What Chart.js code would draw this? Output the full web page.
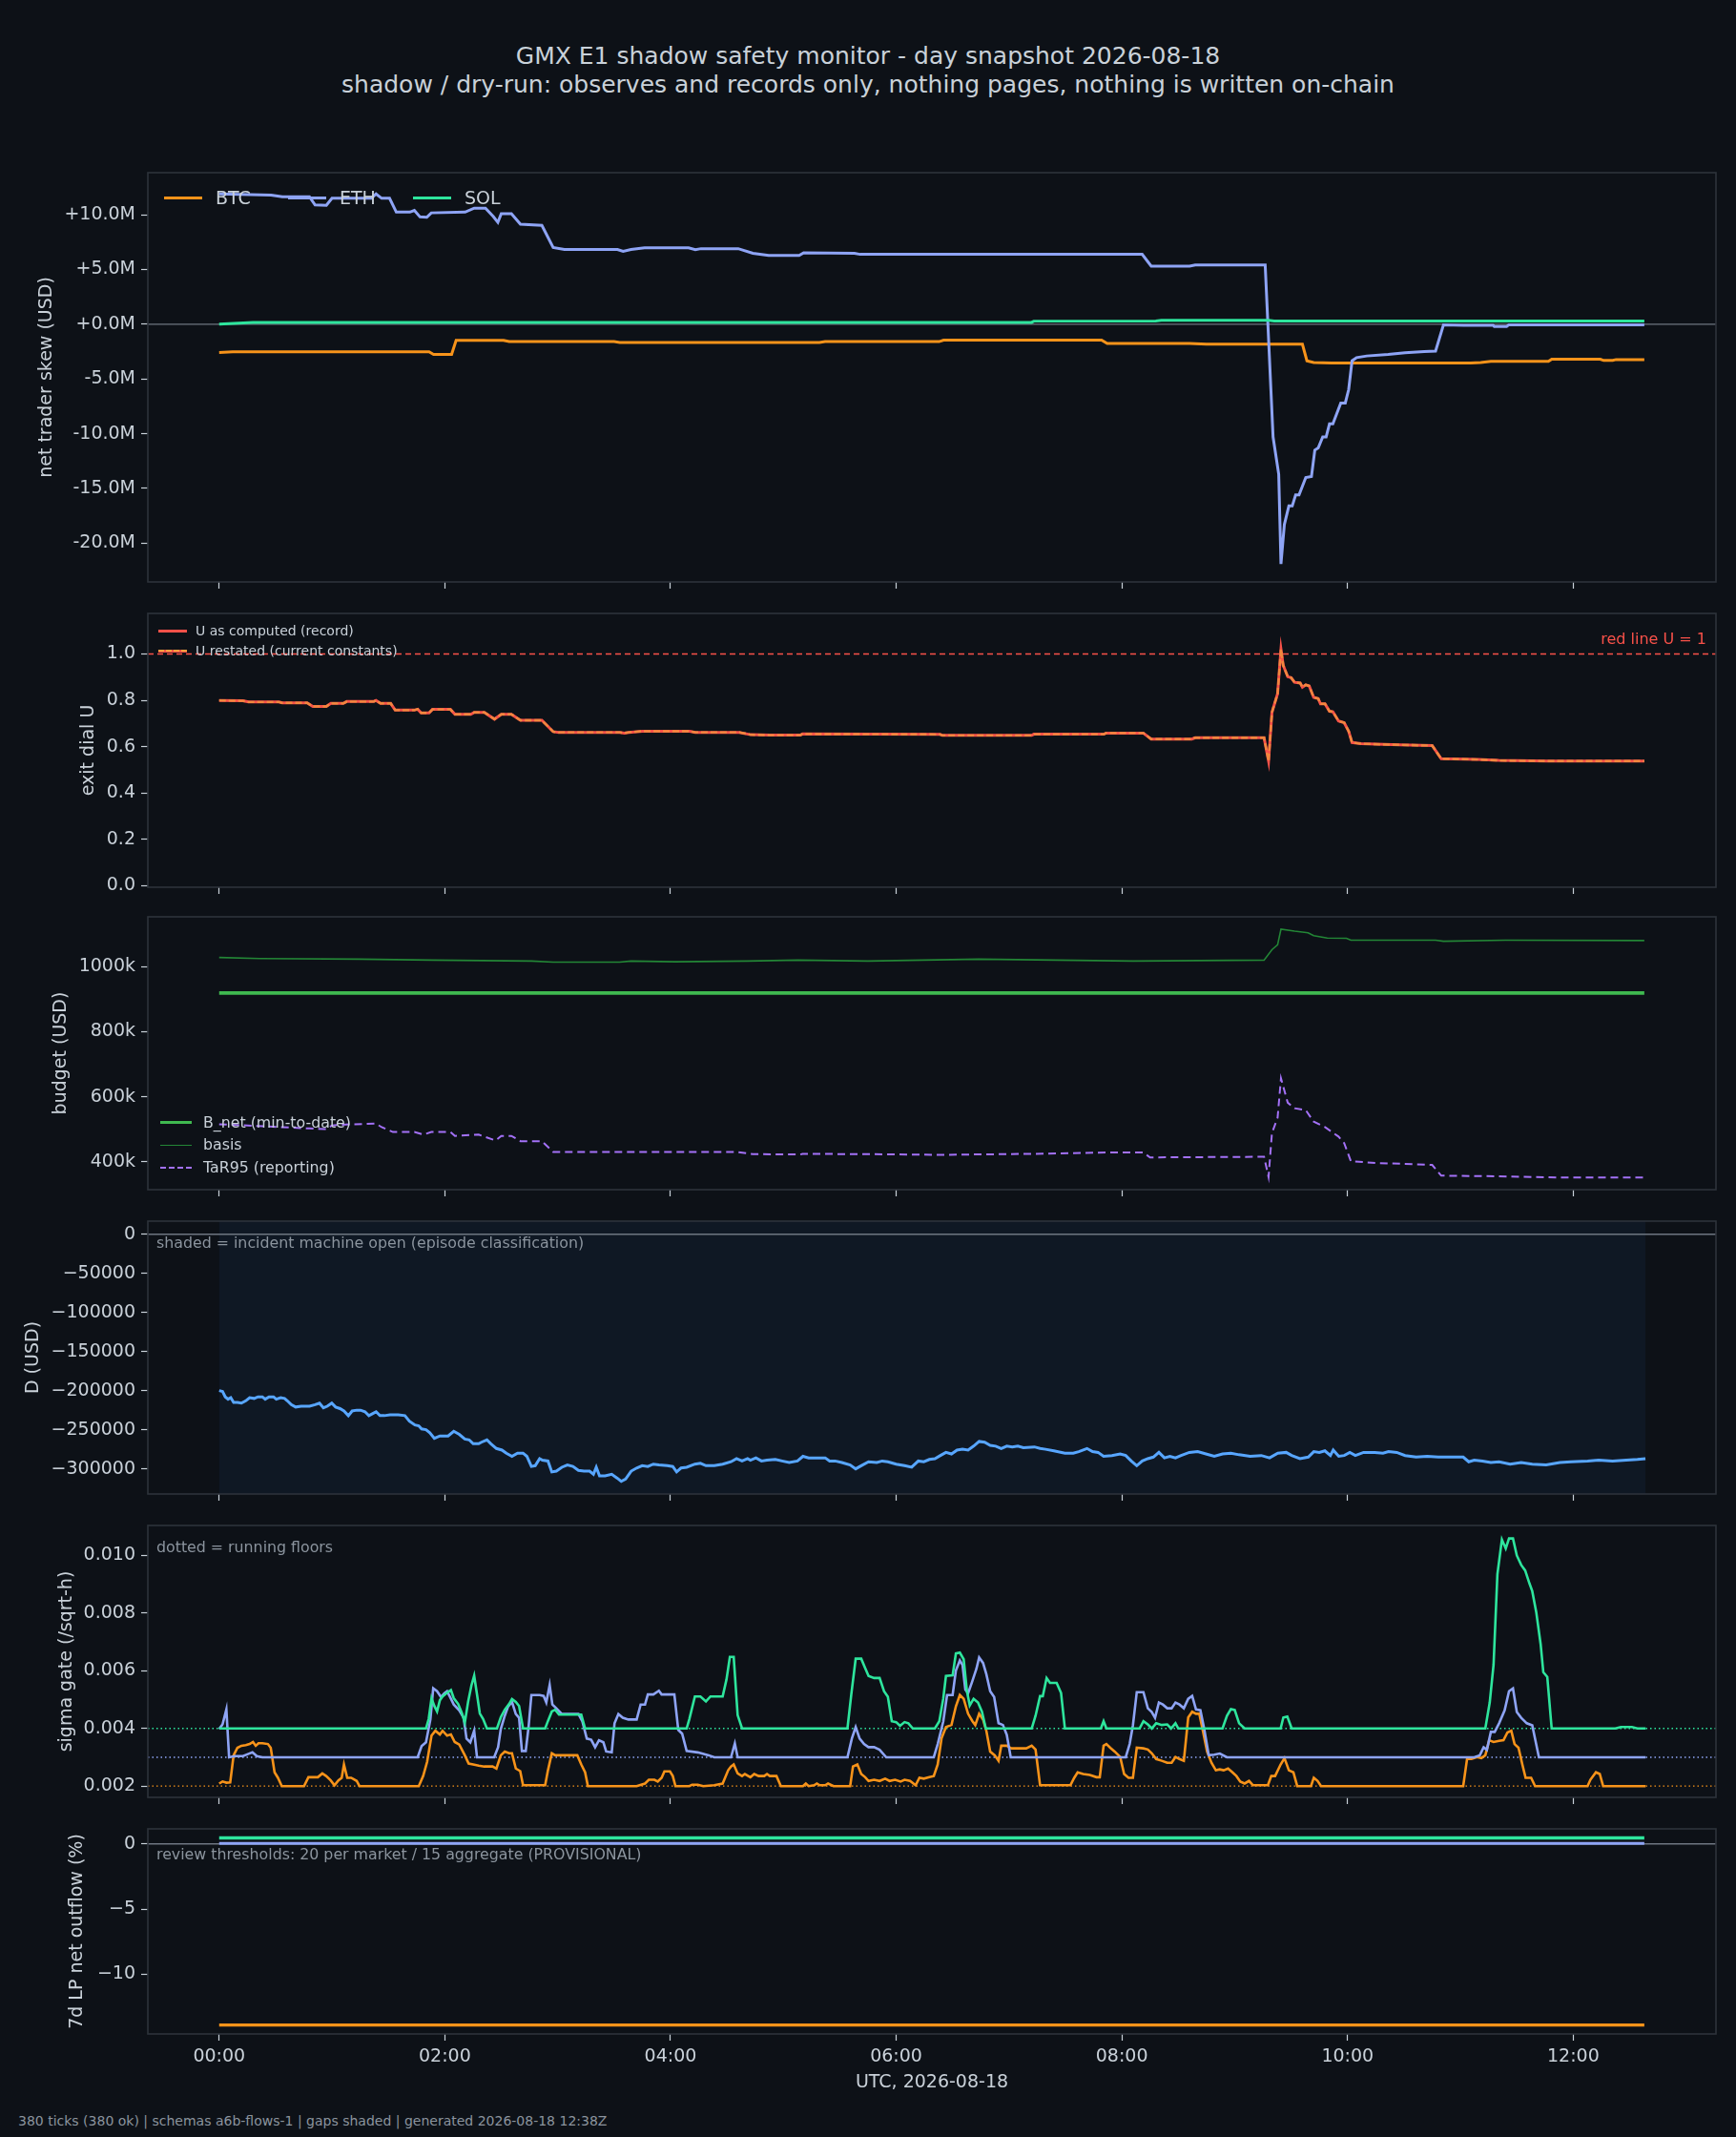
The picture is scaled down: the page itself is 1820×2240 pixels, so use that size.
<!DOCTYPE html>
<html>
<head>
<meta charset="utf-8">
<script src="https://cdn.jsdelivr.net/npm/chart.js@4.4.1/dist/chart.umd.min.js"></script>
<style>
html, body { margin: 0; padding: 0; background: #0d1117; }
body { width: 1820px; height: 2240px; position: relative; overflow: hidden; font-family: "DejaVu Sans", sans-serif; }
canvas { position: absolute; }
.t { position: absolute; white-space: nowrap; }
.sw { position: absolute; height: 0; }
</style>
</head>
<body>
<script>
// ---- data (hours since 00:00 UTC, value) ----
const hourTicks = [0, 2, 4, 6, 8, 10, 12];

// panel 1: net trader skew, millions USD
const skewBtc = [[0,-2.59],[0.12,-2.52],[1.86,-2.52],[1.9,-2.76],[2.06,-2.76],[2.1,-1.48],[2.52,-1.48],[2.57,-1.59],[3.5,-1.59],[3.55,-1.66],[5.32,-1.66],[5.37,-1.59],[6.38,-1.59],[6.42,-1.45],[7.82,-1.45],[7.87,-1.76],[8.6,-1.76],[8.75,-1.83],[9.6,-1.83],[9.64,-3.34],[9.7,-3.49],[9.86,-3.55],[11.09,-3.55],[11.18,-3.49],[11.27,-3.4],[11.78,-3.4],[11.81,-3.2],[12.24,-3.2],[12.27,-3.31],[12.35,-3.31],[12.38,-3.23],[12.63,-3.23]];
const skewEth = [[0,11.9],[0.46,11.8],[0.56,11.65],[0.8,11.65],[0.85,10.9],[0.95,10.86],[1.0,11.5],[1.35,11.5],[1.39,11.9],[1.44,11.5],[1.51,11.5],[1.57,10.24],[1.69,10.24],[1.73,10.4],[1.78,9.8],[1.84,9.76],[1.88,10.17],[2.18,10.24],[2.26,10.6],[2.36,10.6],[2.43,9.83],[2.47,9.3],[2.5,10.1],[2.59,10.1],[2.67,9.14],[2.86,9.03],[2.96,7.0],[3.06,6.83],[3.53,6.83],[3.58,6.66],[3.65,6.83],[3.77,6.97],[4.16,6.97],[4.22,6.8],[4.27,6.9],[4.6,6.9],[4.73,6.48],[4.87,6.28],[5.14,6.28],[5.18,6.52],[5.63,6.48],[5.68,6.38],[8.18,6.38],[8.26,5.31],[8.6,5.31],[8.65,5.41],[9.27,5.41],[9.34,-10.3],[9.39,-13.7],[9.41,-21.9],[9.44,-18.3],[9.48,-16.6],[9.51,-16.6],[9.54,-15.6],[9.57,-15.6],[9.63,-14.0],[9.68,-13.9],[9.71,-11.5],[9.74,-11.3],[9.78,-10.3],[9.81,-10.3],[9.84,-9.1],[9.87,-9.1],[9.94,-7.2],[9.98,-7.2],[10.01,-5.96],[10.04,-3.34],[10.08,-3.05],[10.17,-2.9],[10.36,-2.76],[10.51,-2.6],[10.68,-2.5],[10.78,-2.45],[10.85,-0.06],[11.03,-0.1],[11.29,-0.1],[11.3,-0.2],[11.41,-0.2],[11.43,-0.05],[12.63,-0.05]];
const skewSol = [[0,0.0],[0.3,0.17],[7.2,0.17],[7.22,0.28],[8.3,0.3],[8.35,0.35],[9.3,0.35],[9.35,0.3],[12.63,0.3]];

// panel 2: exit dial U (record and restated agree)
const uComputed = [[0,0.80],[0.21,0.798],[0.26,0.793],[0.53,0.793],[0.56,0.789],[0.78,0.789],[0.83,0.774],[0.95,0.774],[0.99,0.787],[1.1,0.787],[1.13,0.795],[1.37,0.795],[1.39,0.80],[1.43,0.787],[1.52,0.787],[1.56,0.758],[1.73,0.758],[1.76,0.762],[1.79,0.746],[1.86,0.746],[1.89,0.761],[2.05,0.761],[2.09,0.74],[2.23,0.74],[2.26,0.748],[2.35,0.748],[2.44,0.719],[2.5,0.74],[2.59,0.74],[2.67,0.714],[2.86,0.714],[2.96,0.665],[3.01,0.662],[3.55,0.662],[3.59,0.659],[3.63,0.662],[3.75,0.667],[4.17,0.667],[4.22,0.662],[4.61,0.662],[4.71,0.652],[4.88,0.65],[5.15,0.65],[5.17,0.655],[6.39,0.653],[6.41,0.649],[7.2,0.649],[7.22,0.654],[7.84,0.654],[7.86,0.659],[8.19,0.659],[8.26,0.633],[8.62,0.633],[8.65,0.639],[9.26,0.639],[9.3,0.538],[9.33,0.748],[9.38,0.829],[9.41,1.021],[9.43,0.951],[9.47,0.902],[9.5,0.898],[9.53,0.878],[9.58,0.875],[9.6,0.857],[9.63,0.867],[9.66,0.862],[9.7,0.813],[9.74,0.808],[9.76,0.785],[9.8,0.785],[9.84,0.753],[9.87,0.751],[9.92,0.711],[9.97,0.704],[10.01,0.667],[10.04,0.618],[10.12,0.613],[10.46,0.608],[10.75,0.605],[10.83,0.548],[11.15,0.545],[11.34,0.541],[11.78,0.538],[12.63,0.538]];
const uRestated = uComputed;
const uRedLine = 1.0;

// panel 3: budget, thousands USD
const bNet = [[0,919],[12.63,919]];
const basis = [[0,1028],[0.36,1025],[1.24,1023],[1.88,1020],[2.77,1017],[2.96,1014],[3.55,1014],[3.65,1017],[4.04,1015],[4.68,1017],[5.13,1020],[5.75,1017],[6.73,1023],[8.1,1017],[9.26,1020],[9.33,1052],[9.38,1067],[9.41,1115],[9.53,1109],[9.65,1104],[9.7,1095],[9.82,1088],[9.99,1087],[10.03,1081],[10.78,1081],[10.85,1078],[11.4,1081],[12.63,1080]];
const tar95 = [[0,516],[0.8,503],[0.95,501],[1.0,512],[1.12,515],[1.39,518],[1.44,507],[1.54,492],[1.73,492],[1.81,484],[1.88,492],[2.05,492],[2.09,480],[2.3,484],[2.45,466],[2.5,480],[2.59,480],[2.67,464],[2.86,464],[2.96,431],[3.55,431],[4.58,431],[4.73,424],[5.15,423],[5.17,425],[5.75,424],[6.39,422],[7.22,425],[7.86,429],[8.19,429],[8.25,414],[9.26,416],[9.3,354],[9.33,489],[9.38,536],[9.41,657],[9.47,582],[9.53,565],[9.63,559],[9.7,524],[9.8,507],[9.92,478],[9.97,458],[10.03,402],[10.26,397],[10.75,391],[10.83,358],[11.34,356],[11.88,352],[12.63,352]];

// panel 4: D, thousands USD; shaded incident window
const dUsdK = [[0,-200],[0.03,-201],[0.054,-208],[0.079,-211],[0.103,-209],[0.128,-215],[0.162,-215],[0.197,-216],[0.236,-213],[0.27,-209],[0.31,-210],[0.344,-208],[0.383,-208],[0.408,-211],[0.442,-208],[0.482,-208],[0.506,-211],[0.545,-209],[0.58,-210],[0.604,-213],[0.639,-218],[0.678,-221],[0.727,-220],[0.801,-220],[0.85,-218],[0.889,-216],[0.924,-222],[0.958,-220],[0.998,-216],[1.032,-221],[1.071,-223],[1.106,-226],[1.145,-232],[1.179,-226],[1.219,-225],[1.253,-225],[1.292,-227],[1.327,-232],[1.366,-229],[1.391,-227],[1.425,-232],[1.464,-232],[1.514,-231],[1.587,-231],[1.646,-232],[1.686,-239],[1.735,-244],[1.769,-245],[1.794,-249],[1.833,-250],[1.867,-254],[1.907,-261],[1.956,-258],[2.029,-258],[2.079,-252],[2.128,-256],[2.177,-262],[2.216,-263],[2.251,-268],[2.3,-268],[2.324,-266],[2.373,-263],[2.408,-268],[2.457,-274],[2.506,-276],[2.545,-280],[2.595,-284],[2.644,-280],[2.693,-280],[2.727,-284],[2.767,-297],[2.801,-296],[2.84,-287],[2.865,-289],[2.914,-290],[2.948,-304],[2.988,-303],[3.037,-298],[3.086,-295],[3.135,-297],[3.184,-302],[3.233,-303],[3.283,-303],[3.317,-307],[3.342,-298],[3.371,-309],[3.42,-309],[3.479,-307],[3.528,-312],[3.563,-316],[3.602,-313],[3.651,-303],[3.7,-299],[3.749,-296],[3.799,-297],[3.848,-294],[3.897,-295],[3.971,-296],[4.02,-297],[4.054,-304],[4.093,-299],[4.143,-298],[4.216,-294],[4.265,-293],[4.314,-296],[4.388,-296],[4.462,-294],[4.536,-291],[4.585,-287],[4.634,-290],[4.683,-287],[4.708,-289],[4.757,-286],[4.806,-290],[4.855,-289],[4.929,-288],[4.988,-290],[5.052,-292],[5.125,-290],[5.174,-284],[5.224,-286],[5.297,-286],[5.371,-286],[5.41,-290],[5.459,-290],[5.518,-292],[5.592,-295],[5.641,-300],[5.69,-296],[5.755,-291],[5.828,-292],[5.877,-290],[5.926,-291],[6.0,-294],[6.074,-296],[6.137,-298],[6.196,-290],[6.245,-291],[6.294,-288],[6.343,-287],[6.392,-283],[6.441,-279],[6.49,-281],[6.539,-276],[6.588,-275],[6.637,-276],[6.686,-271],[6.735,-265],[6.784,-266],[6.833,-270],[6.882,-271],[6.931,-274],[6.98,-271],[7.029,-272],[7.078,-271],[7.127,-273],[7.225,-272],[7.275,-274],[7.324,-275],[7.397,-277],[7.495,-280],[7.569,-280],[7.618,-278],[7.691,-274],[7.74,-278],[7.789,-279],[7.838,-284],[7.912,-283],[7.985,-281],[8.034,-283],[8.083,-290],[8.132,-296],[8.181,-290],[8.23,-287],[8.279,-285],[8.328,-279],[8.377,-286],[8.426,-284],[8.475,-286],[8.525,-283],[8.598,-279],[8.672,-278],[8.745,-281],[8.819,-284],[8.892,-281],[8.966,-280],[9.039,-282],[9.137,-284],[9.235,-283],[9.309,-286],[9.382,-280],[9.456,-279],[9.505,-283],[9.578,-287],[9.652,-285],[9.701,-278],[9.75,-279],[9.799,-277],[9.848,-283],[9.873,-276],[9.922,-284],[9.971,-283],[10.02,-279],[10.069,-283],[10.142,-279],[10.24,-279],[10.314,-280],[10.363,-278],[10.436,-279],[10.51,-283],[10.608,-285],[10.706,-284],[10.804,-285],[10.902,-285],[11.025,-285],[11.074,-291],[11.123,-289],[11.196,-290],[11.27,-292],[11.343,-291],[11.441,-294],[11.539,-292],[11.637,-294],[11.76,-295],[11.882,-292],[11.98,-291],[12.127,-290],[12.225,-289],[12.348,-290],[12.471,-289],[12.569,-288],[12.64,-287]];
const incidentOpen = [0, 12.64];

// panel 5: sigma gate (/sqrt-h) and running floors
const sigmaBtc = [[0,0.00209],[0.03,0.00216],[0.064,0.00212],[0.098,0.00213],[0.128,0.00307],[0.162,0.00333],[0.197,0.0034],[0.236,0.00342],[0.27,0.00346],[0.3,0.00353],[0.324,0.0034],[0.349,0.00349],[0.383,0.00349],[0.432,0.00346],[0.457,0.00333],[0.491,0.00248],[0.521,0.00229],[0.555,0.002],[0.752,0.002],[0.791,0.00231],[0.875,0.00231],[0.914,0.00244],[0.948,0.00235],[0.988,0.0022],[1.022,0.00203],[1.057,0.0022],[1.086,0.00229],[1.106,0.00275],[1.135,0.00229],[1.17,0.00229],[1.219,0.00218],[1.243,0.002],[1.769,0.002],[1.808,0.00235],[1.843,0.00284],[1.882,0.00375],[1.916,0.00392],[1.956,0.00379],[1.98,0.00392],[2.02,0.00375],[2.054,0.00379],[2.088,0.00353],[2.128,0.00344],[2.177,0.00307],[2.211,0.00278],[2.251,0.00275],[2.3,0.00271],[2.349,0.00268],[2.423,0.00268],[2.457,0.00261],[2.496,0.00307],[2.531,0.0032],[2.57,0.00314],[2.595,0.00314],[2.629,0.00261],[2.668,0.00252],[2.693,0.00203],[2.889,0.00203],[2.914,0.00255],[2.948,0.00314],[2.978,0.00307],[3.174,0.00307],[3.209,0.00275],[3.243,0.00248],[3.268,0.002],[3.7,0.002],[3.74,0.00205],[3.774,0.00209],[3.808,0.00222],[3.857,0.00222],[3.887,0.00216],[3.921,0.00229],[3.946,0.00251],[3.995,0.00251],[4.02,0.00235],[4.044,0.002],[4.167,0.002],[4.192,0.00205],[4.241,0.00205],[4.29,0.002],[4.388,0.00203],[4.462,0.00209],[4.511,0.00255],[4.536,0.00268],[4.56,0.00275],[4.595,0.00244],[4.634,0.00235],[4.659,0.00242],[4.708,0.00231],[4.742,0.00242],[4.781,0.00235],[4.831,0.00235],[4.855,0.00242],[4.88,0.00235],[4.939,0.00235],[4.978,0.002],[5.174,0.002],[5.199,0.00209],[5.224,0.002],[5.273,0.00203],[5.297,0.00209],[5.322,0.00203],[5.371,0.00203],[5.396,0.00209],[5.445,0.002],[5.592,0.002],[5.617,0.00268],[5.656,0.00275],[5.69,0.00242],[5.725,0.00231],[5.755,0.00218],[5.804,0.00222],[5.853,0.00218],[5.902,0.00226],[5.941,0.00218],[5.99,0.00222],[6.039,0.00216],[6.074,0.00222],[6.123,0.00218],[6.172,0.00203],[6.206,0.00229],[6.245,0.00226],[6.294,0.00231],[6.333,0.00235],[6.368,0.00275],[6.402,0.00366],[6.441,0.00405],[6.49,0.00412],[6.529,0.00477],[6.564,0.00516],[6.598,0.00503],[6.637,0.00451],[6.676,0.00425],[6.701,0.00412],[6.735,0.00451],[6.77,0.00431],[6.799,0.00392],[6.833,0.0032],[6.873,0.00307],[6.907,0.00288],[6.931,0.0034],[6.98,0.0034],[7.02,0.00331],[7.152,0.00331],[7.201,0.0034],[7.235,0.00327],[7.275,0.00203],[7.544,0.00203],[7.578,0.00229],[7.608,0.00248],[7.657,0.00242],[7.716,0.00239],[7.775,0.00231],[7.804,0.00231],[7.838,0.0034],[7.863,0.00346],[7.897,0.00333],[7.936,0.0032],[7.985,0.00301],[8.02,0.00242],[8.059,0.00229],[8.098,0.00229],[8.132,0.00333],[8.191,0.00331],[8.23,0.00327],[8.265,0.00314],[8.304,0.00294],[8.353,0.00288],[8.402,0.00281],[8.441,0.00281],[8.475,0.00301],[8.51,0.00294],[8.549,0.00288],[8.588,0.00438],[8.623,0.00458],[8.657,0.00451],[8.686,0.00451],[8.721,0.00386],[8.755,0.0032],[8.794,0.00281],[8.833,0.00255],[8.868,0.00258],[8.902,0.00255],[8.941,0.00261],[8.98,0.00248],[9.015,0.00235],[9.049,0.00216],[9.088,0.00209],[9.127,0.00218],[9.162,0.00203],[9.294,0.00203],[9.324,0.00235],[9.358,0.00235],[9.407,0.00275],[9.441,0.00297],[9.48,0.00255],[9.52,0.00248],[9.554,0.002],[9.676,0.002],[9.701,0.00229],[9.735,0.00218],[9.765,0.002],[11.025,0.002],[11.059,0.00294],[11.098,0.00294],[11.147,0.00301],[11.186,0.00297],[11.221,0.00307],[11.255,0.00359],[11.294,0.00353],[11.343,0.00357],[11.382,0.00359],[11.417,0.00386],[11.451,0.00392],[11.48,0.00346],[11.515,0.00333],[11.549,0.00275],[11.578,0.00229],[11.627,0.00229],[11.662,0.002],[12.127,0.002],[12.152,0.00222],[12.201,0.00248],[12.235,0.00242],[12.265,0.002],[12.642,0.002]];
const sigmaEth = [[0,0.00398],[0.03,0.00414],[0.064,0.00466],[0.088,0.003],[0.138,0.00304],[0.211,0.00304],[0.26,0.00312],[0.295,0.00317],[0.334,0.00304],[0.383,0.003],[1.759,0.003],[1.794,0.00339],[1.833,0.00352],[1.872,0.00431],[1.897,0.00539],[1.931,0.00529],[1.966,0.00509],[1.995,0.00522],[2.02,0.00529],[2.054,0.00503],[2.079,0.00483],[2.128,0.00463],[2.167,0.00437],[2.192,0.00365],[2.226,0.00352],[2.26,0.00392],[2.285,0.003],[2.437,0.003],[2.472,0.00335],[2.496,0.00398],[2.531,0.00444],[2.56,0.00476],[2.595,0.00492],[2.629,0.0045],[2.658,0.00437],[2.683,0.00322],[2.717,0.00322],[2.742,0.00405],[2.767,0.00516],[2.84,0.00516],[2.875,0.00513],[2.899,0.0049],[2.929,0.00551],[2.953,0.00483],[2.988,0.0047],[3.037,0.0045],[3.184,0.0045],[3.219,0.00424],[3.258,0.00365],[3.297,0.00361],[3.332,0.00335],[3.366,0.00359],[3.405,0.00352],[3.43,0.0032],[3.479,0.00317],[3.504,0.00418],[3.538,0.0045],[3.577,0.00437],[3.627,0.00431],[3.7,0.00431],[3.735,0.00483],[3.774,0.00483],[3.799,0.00518],[3.848,0.00518],[3.897,0.00531],[3.921,0.00518],[4.034,0.00518],[4.069,0.00395],[4.103,0.00382],[4.143,0.00322],[4.241,0.00317],[4.339,0.00307],[4.388,0.003],[4.536,0.003],[4.57,0.00348],[4.595,0.003],[5.568,0.003],[5.607,0.00365],[5.641,0.00405],[5.676,0.00365],[5.715,0.00346],[5.754,0.00335],[5.804,0.00335],[5.853,0.00326],[5.912,0.003],[6.333,0.003],[6.368,0.00346],[6.417,0.00424],[6.451,0.00516],[6.5,0.00516],[6.529,0.00601],[6.564,0.00636],[6.588,0.0062],[6.613,0.00535],[6.637,0.00522],[6.672,0.00561],[6.711,0.00607],[6.735,0.00646],[6.77,0.00627],[6.799,0.00588],[6.833,0.00529],[6.868,0.00509],[6.907,0.00418],[6.946,0.00412],[6.98,0.00378],[7.015,0.003],[8.034,0.003],[8.069,0.00346],[8.098,0.00411],[8.132,0.00526],[8.191,0.00526],[8.23,0.0047],[8.265,0.00457],[8.294,0.00437],[8.328,0.0049],[8.363,0.00483],[8.402,0.0047],[8.441,0.0047],[8.475,0.0049],[8.51,0.00483],[8.549,0.0047],[8.588,0.00503],[8.623,0.00513],[8.657,0.00466],[8.696,0.00463],[8.73,0.00398],[8.77,0.00307],[8.819,0.00309],[8.868,0.00313],[8.931,0.003],[11.123,0.003],[11.172,0.00307],[11.206,0.00335],[11.235,0.00326],[11.27,0.00388],[11.304,0.00388],[11.343,0.00418],[11.392,0.00463],[11.431,0.00529],[11.466,0.00539],[11.5,0.00457],[11.539,0.00437],[11.588,0.00418],[11.637,0.00411],[11.696,0.003],[12.642,0.003]];
const sigmaSol = [[0,0.004],[1.833,0.004],[1.857,0.00433],[1.882,0.00505],[1.907,0.00478],[1.931,0.00459],[1.956,0.00498],[1.98,0.00511],[2.02,0.00524],[2.054,0.00533],[2.079,0.00505],[2.118,0.00485],[2.152,0.00452],[2.177,0.0042],[2.206,0.00492],[2.236,0.0055],[2.26,0.00583],[2.29,0.00505],[2.31,0.00452],[2.339,0.00433],[2.373,0.004],[2.462,0.004],[2.496,0.00439],[2.531,0.00465],[2.57,0.00485],[2.595,0.00502],[2.629,0.00492],[2.658,0.00478],[2.693,0.004],[2.889,0.004],[2.914,0.00426],[2.948,0.00459],[2.978,0.00465],[3.012,0.00448],[3.209,0.00448],[3.243,0.004],[4.143,0.004],[4.167,0.00433],[4.216,0.00511],[4.265,0.00511],[4.314,0.00494],[4.354,0.00511],[4.462,0.00511],[4.496,0.0057],[4.526,0.00648],[4.56,0.00648],[4.595,0.00446],[4.634,0.004],[5.568,0.004],[5.602,0.00518],[5.641,0.00642],[5.69,0.00642],[5.725,0.00609],[5.755,0.00582],[5.804,0.00575],[5.853,0.00575],[5.892,0.00529],[5.926,0.0051],[5.961,0.00425],[6.0,0.00422],[6.034,0.00409],[6.074,0.00422],[6.108,0.00418],[6.147,0.004],[6.343,0.004],[6.382,0.00425],[6.417,0.00503],[6.441,0.00582],[6.5,0.00584],[6.529,0.0066],[6.564,0.00663],[6.598,0.0064],[6.627,0.00529],[6.652,0.0048],[6.686,0.00503],[6.725,0.0049],[6.76,0.00458],[6.794,0.004],[7.201,0.004],[7.235,0.00444],[7.275,0.00512],[7.299,0.00512],[7.333,0.00575],[7.363,0.00558],[7.422,0.00558],[7.461,0.00523],[7.495,0.004],[7.814,0.004],[7.838,0.00425],[7.863,0.004],[8.157,0.004],[8.191,0.00425],[8.23,0.00414],[8.265,0.004],[8.304,0.00418],[8.353,0.00412],[8.402,0.00414],[8.436,0.004],[8.475,0.00418],[8.5,0.004],[8.892,0.004],[8.931,0.00444],[8.966,0.00467],[9.0,0.00464],[9.039,0.00418],[9.088,0.004],[9.407,0.004],[9.431,0.00438],[9.466,0.00441],[9.505,0.004],[11.221,0.004],[11.26,0.0049],[11.294,0.00621],[11.328,0.00935],[11.368,0.01055],[11.402,0.01024],[11.431,0.01059],[11.466,0.01059],[11.5,0.01],[11.539,0.00967],[11.574,0.00948],[11.613,0.00902],[11.637,0.00876],[11.672,0.00804],[11.711,0.00693],[11.735,0.00595],[11.77,0.00579],[11.809,0.004],[12.373,0.004],[12.422,0.00405],[12.52,0.00405],[12.569,0.004],[12.642,0.004]];
const sigmaFloors = { btc: 0.002, eth: 0.003, sol: 0.004 };

// panel 6: 7d LP net outflow, percent
const outflowBtc = [[0,-13.9],[12.63,-13.9]];
const outflowEth = [[0,0.03],[12.63,0.03]];
const outflowSol = [[0,0.45],[12.63,0.45]];

// ---- look ----
const BG = '#0d1117', TEXT = '#c9d1d9', MUTED = '#8b949e', FRAME = '#2d333b';
const C_BTC = '#f7931a', C_ETH = '#8ea4f5', C_SOL = '#2ee59d';
const FONT = 'DejaVu Sans';
const X_MIN = -0.632, X_MAX = 13.265;
const PLOT_LEFT = 155, PLOT_RIGHT = 1799, PAD_TOP = 22, PAD_BOTTOM = 10;
const TICK_SIZE = 19, LABEL_SIZE = 19;

Chart.defaults.font.family = FONT;
Chart.defaults.color = TEXT;

function pts(arr) { return arr.map(p => ({ x: p[0], y: p[1] })); }
function line(label, arr, color, width, extra) {
    return Object.assign({ label, data: pts(arr), borderColor: color, borderWidth: width,
        pointRadius: 0, tension: 0, fill: false }, extra || {});
}
function hhmm(v) { return String(v).padStart(2, '0') + ':00'; }

const decorations = {
    id: 'decorations',
    beforeDatasetsDraw(chart, args, opts) {
        const { ctx, chartArea: a, scales: { x, y } } = chart;
        ctx.save();
        ctx.beginPath();
        ctx.rect(a.left, a.top, a.right - a.left, a.bottom - a.top);
        ctx.clip();
        (opts.spans || []).forEach(s => {
            ctx.fillStyle = s.color;
            const x0 = x.getPixelForValue(s.from), x1 = x.getPixelForValue(s.to);
            ctx.fillRect(x0, a.top, x1 - x0, a.bottom - a.top);
        });
        (opts.hlines || []).forEach(h => {
            const py = y.getPixelForValue(h.y);
            ctx.strokeStyle = h.color;
            ctx.lineWidth = h.width;
            ctx.setLineDash(h.dash || []);
            ctx.beginPath();
            ctx.moveTo(a.left, py);
            ctx.lineTo(a.right, py);
            ctx.stroke();
        });
        ctx.restore();
    },
    afterDraw(chart) {
        const { ctx, chartArea: a } = chart;
        ctx.save();
        ctx.strokeStyle = FRAME;
        ctx.lineWidth = 1.6;
        ctx.strokeRect(a.left, a.top, a.right - a.left, a.bottom - a.top);
        ctx.restore();
    }
};

function makePanel(cfg) {
    const left = Math.round(cfg.titleX - (LABEL_SIZE * 0.6 + 4));
    // y tick labels ask for ~17px of room above and below the plot; keep it inside the pads
    const xh = cfg.bottomAxis ? 66 : 12;
    const w = 1820 - left;
    const h = PAD_TOP + (cfg.bottom - cfg.top) + xh + PAD_BOTTOM;
    const canvas = document.createElement('canvas');
    canvas.width = w;
    canvas.height = h;
    canvas.style.left = left + 'px';
    canvas.style.top = (cfg.top - PAD_TOP) + 'px';
    canvas.style.width = w + 'px';
    canvas.style.height = h + 'px';
    document.body.appendChild(canvas);

    const tickGrid = { display: true, drawOnChartArea: false, drawTicks: true, tickLength: 7,
        tickColor: TEXT, tickWidth: 1.2 };

    return new Chart(canvas, {
        type: 'line',
        data: { datasets: cfg.datasets },
        options: {
            responsive: false,
            devicePixelRatio: 1,
            animation: false,
            events: [],
            layout: { padding: { top: PAD_TOP, left: 0, right: 1820 - PLOT_RIGHT, bottom: PAD_BOTTOM } },
            plugins: {
                legend: { display: false },
                tooltip: { enabled: false },
                decorations: { hlines: cfg.hlines, spans: cfg.spans }
            },
            scales: {
                x: {
                    type: 'linear', min: X_MIN, max: X_MAX,
                    afterBuildTicks: s => { s.ticks = hourTicks.map(v => ({ value: v })); },
                    afterFit: s => { s.height = xh; },
                    grid: tickGrid,
                    border: { display: false },
                    ticks: { display: !!cfg.bottomAxis, color: TEXT, font: { size: TICK_SIZE }, padding: 6,
                        maxRotation: 0, autoSkip: false, callback: v => hhmm(v) },
                    title: { display: !!cfg.bottomAxis, text: 'UTC, 2026-08-18', color: TEXT,
                        font: { size: LABEL_SIZE }, padding: { top: 4, bottom: 4 } }
                },
                y: {
                    type: 'linear', position: 'left', min: cfg.yMin, max: cfg.yMax,
                    afterBuildTicks: s => { s.ticks = cfg.yTicks.map(v => ({ value: v })); },
                    afterFit: s => { s.width = PLOT_LEFT - left; },
                    grid: tickGrid,
                    border: { display: false },
                    ticks: { color: TEXT, font: { size: TICK_SIZE }, padding: 6, autoSkip: false, callback: cfg.yFormat },
                    title: { display: true, text: cfg.yTitle, color: TEXT, font: { size: LABEL_SIZE },
                        padding: { top: 4, bottom: 4 } }
                }
            }
        },
        plugins: [decorations]
    });
}

const minus = v => (v < 0 ? '\u2212' + Math.abs(v) : String(v));

// 1. net trader skew
makePanel({
    top: 181, bottom: 610, titleX: 49,
    yMin: -23.54, yMax: 13.84, yTicks: [-20, -15, -10, -5, 0, 5, 10],
    yFormat: v => (v >= 0 ? '+' : '-') + Math.abs(v).toFixed(1) + 'M',
    yTitle: 'net trader skew (USD)',
    hlines: [{ y: 0, color: '#6e7681', width: 1.4 }],
    datasets: [
        line('BTC', skewBtc, C_BTC, 3, { order: 2 }),
        line('ETH', skewEth, C_ETH, 3, { order: 1 }),
        line('SOL', skewSol, C_SOL, 3, { order: 0 })
    ]
});

// 2. exit dial U
makePanel({
    top: 643, bottom: 930, titleX: 93,
    yMin: -0.006, yMax: 1.175, yTicks: [0, 0.2, 0.4, 0.6, 0.8, 1.0],
    yFormat: v => v.toFixed(1),
    yTitle: 'exit dial U',
    hlines: [{ y: uRedLine, color: '#f85149', width: 1.6, dash: [6, 4] }],
    datasets: [
        line('U as computed (record)', uComputed, '#f85149', 3, { order: 1 }),
        line('U restated (current constants)', uRestated, '#f0883e', 2.4, { order: 0, borderDash: [7, 3] })
    ]
});

// 3. budget
makePanel({
    top: 961, bottom: 1247, titleX: 64,
    yMin: 315, yMax: 1153, yTicks: [400, 600, 800, 1000],
    yFormat: v => v + 'k',
    yTitle: 'budget (USD)',
    datasets: [
        line('B_net (min-to-date)', bNet, '#3fb950', 3.6, { order: 2 }),
        line('basis', basis, '#238636', 1.6, { order: 1 }),
        line('TaR95 (reporting)', tar95, '#a371f7', 2, { order: 0, borderDash: [8, 5] })
    ]
});

// 4. D
makePanel({
    top: 1280, bottom: 1566, titleX: 35,
    yMin: -332.2, yMax: 16.7, yTicks: [0, -50, -100, -150, -200, -250, -300],
    yFormat: v => minus(v * 1000),
    yTitle: 'D (USD)',
    spans: [{ from: incidentOpen[0], to: incidentOpen[1], color: 'rgba(56,139,253,0.06)' }],
    hlines: [{ y: 0, color: '#6e7681', width: 1.4 }],
    datasets: [line('D', dUsdK, '#58a6ff', 3)]
});

// 5. sigma gate
makePanel({
    top: 1599, bottom: 1884, titleX: 70,
    yMin: 0.00161, yMax: 0.01104, yTicks: [0.002, 0.004, 0.006, 0.008, 0.010],
    yFormat: v => v.toFixed(3),
    yTitle: 'sigma gate (/sqrt-h)',
    hlines: [
        { y: sigmaFloors.btc, color: C_BTC, width: 1.3, dash: [1.5, 3] },
        { y: sigmaFloors.eth, color: C_ETH, width: 1.3, dash: [1.5, 3] },
        { y: sigmaFloors.sol, color: C_SOL, width: 1.3, dash: [1.5, 3] }
    ],
    datasets: [
        line('BTC', sigmaBtc, C_BTC, 2.6, { order: 2 }),
        line('ETH', sigmaEth, C_ETH, 2.6, { order: 1 }),
        line('SOL', sigmaSol, C_SOL, 2.6, { order: 0 })
    ]
});

// 6. LP outflow
makePanel({
    top: 1917, bottom: 2132, titleX: 81, bottomAxis: true,
    yMin: -14.58, yMax: 1.15, yTicks: [-10, -5, 0],
    yFormat: v => minus(v),
    yTitle: '7d LP net outflow (%)',
    hlines: [{ y: 0, color: '#6e7681', width: 1.4 }],
    datasets: [
        line('BTC', outflowBtc, C_BTC, 3.2, { order: 2 }),
        line('ETH', outflowEth, C_ETH, 3, { order: 1 }),
        line('SOL', outflowSol, C_SOL, 3.6, { order: 0 })
    ]
});

// ---- text overlays ----
function text(str, x, yc, size, color, align) {
    const d = document.createElement('div');
    d.className = 't';
    d.textContent = str;
    d.style.fontSize = size + 'px';
    d.style.lineHeight = (size * 1.2) + 'px';
    d.style.color = color;
    d.style.top = (yc - size * 0.6) + 'px';
    d.style.left = x + 'px';
    if (align === 'center') d.style.transform = 'translateX(-50%)';
    if (align === 'right') d.style.transform = 'translateX(-100%)';
    document.body.appendChild(d);
}
function swatch(x0, x1, yc, color, width, style) {
    const d = document.createElement('div');
    d.className = 'sw';
    d.style.left = x0 + 'px';
    d.style.width = (x1 - x0) + 'px';
    d.style.top = (yc - width / 2) + 'px';
    d.style.borderTop = width + 'px ' + (style || 'solid') + ' ' + color;
    document.body.appendChild(d);
}

text('GMX E1 shadow safety monitor - day snapshot 2026-08-18', 910, 58.5, 25, TEXT, 'center');
text('shadow / dry-run: observes and records only, nothing pages, nothing is written on-chain', 910, 89, 25, TEXT, 'center');

const skewLegend = [['BTC', C_BTC, 172], ['ETH', C_ETH, 302], ['SOL', C_SOL, 433]];
skewLegend.forEach(([name, color, x]) => {
    swatch(x, x + 40, 207, color, 3);
    text(name, x + 54, 207, 19, TEXT);
});

swatch(166, 196, 661.6, '#f85149', 3);
text('U as computed (record)', 205, 661.6, 14, TEXT);
swatch(166, 196, 682.6, '#f85149', 3);
swatch(166, 196, 682.6, '#f0a03e', 2.4, 'dashed');
text('U restated (current constants)', 205, 682.6, 14, TEXT);
text('red line U = 1', 1789, 669.5, 16, '#f85149', 'right');

swatch(168, 201, 1177, '#3fb950', 3.6);
text('B_net (min-to-date)', 213, 1177, 15.8, TEXT);
swatch(168, 201, 1200.6, '#238636', 1.6);
text('basis', 213, 1200.6, 15.8, TEXT);
swatch(168, 201, 1224, '#a371f7', 2, 'dashed');
text('TaR95 (reporting)', 213, 1224, 15.8, TEXT);

text('shaded = incident machine open (episode classification)', 164, 1303.6, 15.8, MUTED);
text('dotted = running floors', 164, 1622, 15.8, MUTED);
text('review thresholds: 20 per market / 15 aggregate (PROVISIONAL)', 164, 1944, 15.8, MUTED);
text('380 ticks (380 ok) | schemas a6b-flows-1 | gaps shaded | generated 2026-08-18 12:38Z', 19, 2223, 14, MUTED);
</script>
</body>
</html>
